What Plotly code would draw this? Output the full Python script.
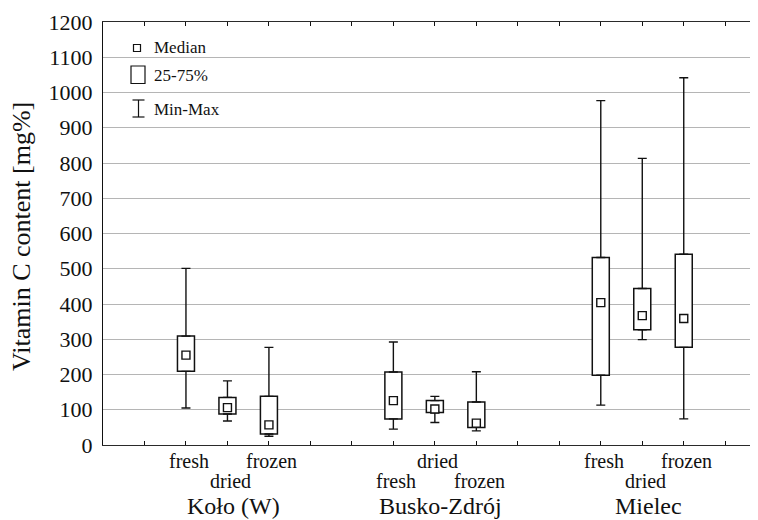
import plotly.graph_objects as go

# ---- data ----
groups = ["Koło (W)", "Busko-Zdrój", "Mielec"]
group_centers = [3, 8, 13]
treatments = ["fresh", "dried", "frozen", "fresh", "dried", "frozen", "fresh", "dried", "frozen"]
positions = [2, 3, 4, 7, 8, 9, 12, 13, 14]
label_rows = [0, 1, 0, 1, 0, 1, 0, 1, 0]
v_min = [105, 68, 25, 45, 64, 40, 113, 299, 74]
v_q1 = [209, 88, 31, 74, 92, 50, 198, 327, 277]
v_median = [255, 106, 57, 126, 102, 62, 404, 367, 359]
v_q3 = [309, 135, 138, 207, 126, 122, 532, 444, 541]
v_max = [501, 182, 277, 292, 138, 208, 977, 813, 1042]
y_ticks = list(range(0, 1300, 100))
x_slots = list(range(1, 16))

FONT = "Liberation Serif"
INK = "#111111"
OFF = 8  # page body margin
W, H = 758 - OFF, 520 - OFF
ML, MR, MT, MB = 103 - OFF, 0, 22 - OFF, 520 - 445
PW, PH = W - ML - MR, H - MT - MB


def px(x):
    return (x - OFF - ML) / PW


def py(y):
    return (H - MB - (y - OFF)) / PH


fig = go.Figure()

# boxes (25-75%)
fig.add_trace(go.Bar(
    x=positions, base=v_q1, y=[b - a for a, b in zip(v_q1, v_q3)],
    width=0.41, marker=dict(color="white", line=dict(color=INK, width=1.5)),
    hoverinfo="skip", showlegend=False))

# upper whiskers
fig.add_trace(go.Scatter(
    x=positions, y=v_q3, mode="markers",
    marker=dict(size=1, color="rgba(0,0,0,0)"),
    error_y=dict(type="data", symmetric=False,
                 array=[b - a for a, b in zip(v_q3, v_max)],
                 arrayminus=[0] * len(positions),
                 width=4.5, thickness=1.4, color=INK),
    hoverinfo="skip", showlegend=False))

# lower whiskers
fig.add_trace(go.Scatter(
    x=positions, y=v_q1, mode="markers",
    marker=dict(size=1, color="rgba(0,0,0,0)"),
    error_y=dict(type="data", symmetric=False,
                 array=[0] * len(positions),
                 arrayminus=[a - b for a, b in zip(v_q1, v_min)],
                 width=4.5, thickness=1.4, color=INK),
    hoverinfo="skip", showlegend=False))

# medians
fig.add_trace(go.Scatter(
    x=positions, y=v_median, mode="markers",
    marker=dict(symbol="square", size=8, color="white",
                line=dict(color=INK, width=1.4)),
    hoverinfo="skip", showlegend=False))

annotations = []
# category labels
for x, t, r in zip(positions, treatments, label_rows):
    annotations.append(dict(
        x=x, y=py(461 if r == 0 else 481), xref="x", yref="paper",
        text=t, showarrow=False, xanchor="center", yanchor="middle",
        xshift=3, font=dict(family=FONT, size=20, color=INK)))
# group labels
for x, g in zip(group_centers, groups):
    annotations.append(dict(
        x=x, y=py(506), xref="x", yref="paper",
        text=g, showarrow=False, xanchor="center", yanchor="middle",
        xshift=6, font=dict(family=FONT, size=24, color=INK)))
# y axis title
annotations.append(dict(
    x=px(22), y=py(237), xref="paper", yref="paper",
    text="Vitamin C content [mg%]", textangle=-90, showarrow=False,
    xanchor="center", yanchor="middle",
    font=dict(family=FONT, size=26, color=INK)))
# legend texts
for txt, yy in [("Median", 48), ("25-75%", 76), ("Min-Max", 110)]:
    annotations.append(dict(
        x=px(152), y=py(yy), xref="paper", yref="paper",
        text=txt, showarrow=False, xanchor="left", yanchor="middle",
        font=dict(family=FONT, size=17, color=INK)))

shapes = [
    dict(type="rect", xref="paper", yref="paper",
         x0=px(133.5), x1=px(140.5), y0=py(44.5), y1=py(51.5),
         line=dict(color=INK, width=1.2), fillcolor="white"),
    dict(type="rect", xref="paper", yref="paper",
         x0=px(131), x1=px(145), y0=py(66), y1=py(83.5),
         line=dict(color=INK, width=1.2), fillcolor="white"),
    dict(type="line", xref="paper", yref="paper",
         x0=px(138.5), x1=px(138.5), y0=py(100), y1=py(117),
         line=dict(color=INK, width=1.2)),
    dict(type="line", xref="paper", yref="paper",
         x0=px(132.5), x1=px(144.5), y0=py(100), y1=py(100),
         line=dict(color=INK, width=1.2)),
    dict(type="line", xref="paper", yref="paper",
         x0=px(132.5), x1=px(144.5), y0=py(117), y1=py(117),
         line=dict(color=INK, width=1.2)),
]

fig.update_layout(
    width=W, height=H,
    margin=dict(l=ML, r=MR, t=MT, b=MB, pad=0),
    paper_bgcolor="white", plot_bgcolor="white",
    font=dict(family=FONT, color=INK),
    showlegend=False,
    annotations=annotations, shapes=shapes,
    xaxis=dict(range=[0, 15.79], tickvals=x_slots, showticklabels=False,
               ticks="inside", ticklen=4, tickcolor=INK, tickwidth=1,
               showline=True, linecolor="#2a2a2a", linewidth=1.3,
               mirror="ticks", showgrid=False, zeroline=False,
               fixedrange=True),
    yaxis=dict(range=[0, 1200], tickvals=y_ticks, ticks="",
               tickfont=dict(family=FONT, size=22, color=INK),
               showline=True, linecolor=INK, linewidth=1.3,
               showgrid=True, gridcolor="#b5b5b5", gridwidth=1,
               zeroline=False, ticklabelstandoff=5, fixedrange=True),
)

fig.write_html("out.html")
